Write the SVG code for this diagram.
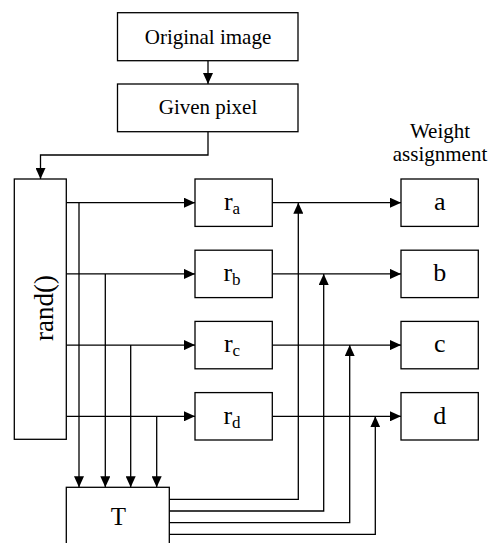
<svg xmlns="http://www.w3.org/2000/svg" width="490" height="543" viewBox="0 0 490 543">
<style>
.box{fill:#fff;stroke:#000;stroke-width:1.3}
.ln{fill:none;stroke:#000;stroke-width:1.3}
text{font-family:'Liberation Serif','Times New Roman',serif;fill:#000;text-anchor:middle}
.t21{font-size:21px}
.big{font-size:26px}
.r{font-size:26px}
.sub{font-size:17px}
</style>
<defs>
<marker id="ah" markerUnits="userSpaceOnUse" markerWidth="11" markerHeight="10" refX="11" refY="5" orient="auto">
<path d="M0,0 L11,5 L0,10 z" fill="#000"/>
</marker>
</defs>
<g id="connectors" class="ln" marker-end="url(#ah)">
<path d="M208,60.7 V84"/>
<path d="M208,131.7 V155 H40.5 V179"/>
<path d="M66.3,202.7 H195"/>
<path d="M66.3,273.9 H195"/>
<path d="M66.3,345.1 H195"/>
<path d="M66.3,416.3 H195"/>
<path d="M79,202.7 V487.3"/>
<path d="M105.3,273.9 V487.3"/>
<path d="M130.7,345.1 V487.3"/>
<path d="M156.7,416.3 V487.3"/>
<path d="M272.3,202.7 H401"/>
<path d="M272.3,273.9 H401"/>
<path d="M272.3,345.1 H401"/>
<path d="M272.3,416.3 H401"/>
<path d="M169.3,499.3 H298.3 V202.7"/>
<path d="M169.3,511 H323.7 V273.9"/>
<path d="M169.3,522.7 H349.7 V345.1"/>
<path d="M169.3,534.3 H375.3 V416.3"/>
</g>
<g id="original"><rect class="box" x="117.5" y="12.7" width="180.5" height="48"/><text class="t21" x="208" y="43.5">Original image</text></g>
<g id="given"><rect class="box" x="117.5" y="84" width="180.5" height="47.7"/><text class="t21" x="208" y="114">Given pixel</text></g>
<g id="rand"><rect class="box" x="14.3" y="179" width="52" height="260.3"/><text class="big" transform="translate(53,308) rotate(-90)" style="font-size:27px">rand()</text></g>
<g id="ra"><rect class="box" x="195" y="179" width="77.3" height="47.4"/><text x="232" y="210"><tspan class="r">r</tspan><tspan class="sub" dy="4">a</tspan></text></g>
<g id="rb"><rect class="box" x="195" y="250.2" width="77.3" height="47.4"/><text x="232" y="281.2"><tspan class="r">r</tspan><tspan class="sub" dy="4">b</tspan></text></g>
<g id="rc"><rect class="box" x="195" y="321.4" width="77.3" height="47.4"/><text x="232" y="352.4"><tspan class="r">r</tspan><tspan class="sub" dy="4">c</tspan></text></g>
<g id="rd"><rect class="box" x="195" y="392.6" width="77.3" height="47.4"/><text x="232" y="423.6"><tspan class="r">r</tspan><tspan class="sub" dy="4">d</tspan></text></g>
<g id="weight-label"><text class="t21" x="440" y="138">Weight</text><text class="t21" x="440" y="161">assignment</text></g>
<g id="wa"><rect class="box" x="401" y="179" width="77.3" height="47.4"/><text class="big" x="439.7" y="210">a</text></g>
<g id="wb"><rect class="box" x="401" y="250.2" width="77.3" height="47.4"/><text class="big" x="439.7" y="281.2">b</text></g>
<g id="wc"><rect class="box" x="401" y="321.4" width="77.3" height="47.4"/><text class="big" x="439.7" y="352.4">c</text></g>
<g id="wd"><rect class="box" x="401" y="392.6" width="77.3" height="47.4"/><text class="big" x="439.7" y="423.6">d</text></g>
<g id="T"><rect class="box" x="66.3" y="487.3" width="103" height="60"/><text x="118.3" y="524.5" style="font-size:25px">T</text></g>
</svg>
